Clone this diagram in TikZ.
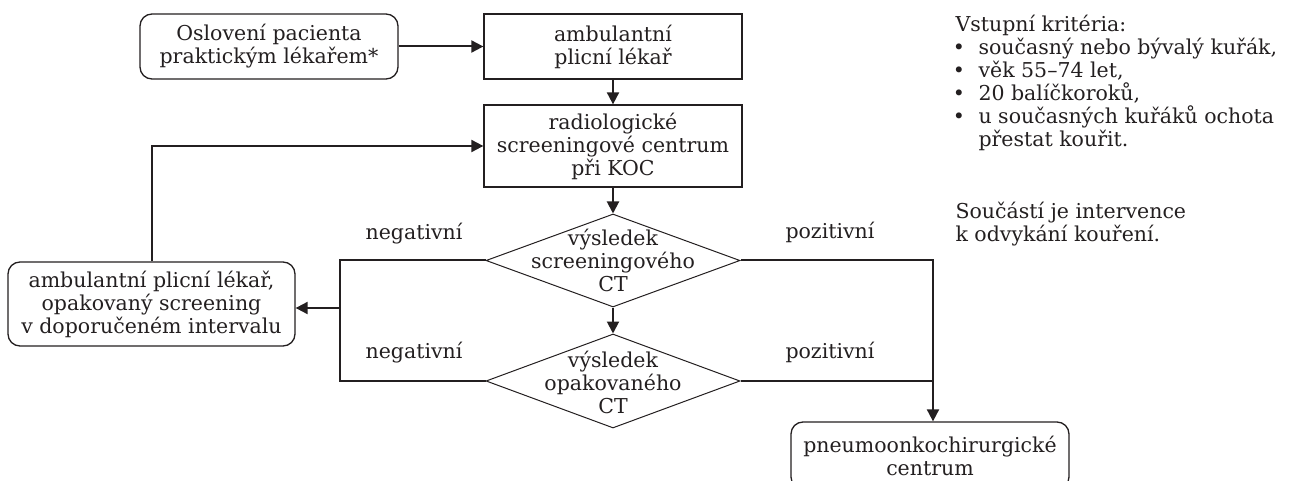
\documentclass[tikz,border=0pt]{standalone}
\usepackage{fontspec}
\setmainfont{DejaVu Serif}
\usetikzlibrary{shapes.geometric,arrows.meta}
\definecolor{ink}{RGB}{35,31,32}
\begin{document}
\begin{tikzpicture}[x=1pt,y=-1pt,
  every node/.style={font=\fontsize{20.5}{23}\selectfont, text=ink},
  rbox/.style={draw=ink, line width=1.3pt, rounded corners=12pt, align=center, inner sep=0pt},
  sbox/.style={draw=ink, line width=1.3pt, align=center, inner sep=0pt},
  dia/.style={diamond, draw=ink, line width=1pt, inner sep=0pt},
  conn/.style={draw=ink, line width=2pt, -{Triangle[length=12pt,width=12pt]}},
  wire/.style={draw=ink, line width=2pt},
  lbl/.style={anchor=base},
  txt/.style={anchor=base west}]
\useasboundingbox (0,0) rectangle (1291,481);
\clip (0,0) rectangle (1291,481);
% nodes
\node[rbox, minimum width=258pt, minimum height=65pt] (n1) at (269,46.5) {Oslovení pacienta\\praktickým lékařem*};
\node[sbox, minimum width=258pt, minimum height=65pt] (n2) at (613,46.5) {ambulantní\\plicní lékař};
\node[sbox, minimum width=258pt, minimum height=82pt] (n3) at (613,146) {radiologické\\screeningové centrum\\při KOC};
\node[dia, minimum width=254pt, minimum height=93pt] (d1) at (613,260.5) {};
\node[align=center, inner sep=0pt] (d1t) at (d1.center) {výsledek\\screeningového\\CT};
\node[dia, minimum width=254pt, minimum height=94pt] (d2) at (613,381) {};
\node[align=center, inner sep=0pt] (d2t) at ([yshift=-1pt]d2.center) {výsledek\\opakovaného\\CT};
\node[rbox, minimum width=287pt, minimum height=84pt] (lb) at (151.5,304) {ambulantní plicní lékař,\\opakovaný screening\\v doporučeném intervalu};
\node[rbox, minimum width=278pt, minimum height=67pt] (bot) at (930,455.5) {pneumoonkochirurgické\\centrum};
% labels
\node[lbl] (neg1) at (414,240) {negativní};
\node[lbl] (neg2) at (414,358) {negativní};
\node[lbl] (poz1) at (830,239) {pozitivní};
\node[lbl] (poz2) at (830,358) {pozitivní};
% right text
\node[txt] (r0) at (952,32) {Vstupní kritéria:};
\node[lbl] (b1) at (959,55) {•};
\node[txt] (r1) at (975,55) {současný nebo bývalý kuřák,};
\node[lbl] (b2) at (959,78) {•};
\node[txt] (r2) at (975,78) {věk 55–74 let,};
\node[lbl] (b3) at (959,101) {•};
\node[txt] (r3) at (975,101) {20 balíčkoroků,};
\node[lbl] (b4) at (959,124) {•};
\node[txt] (r4) at (975,124) {u současných kuřáků ochota};
\node[txt] (r5) at (975,147) {přestat kouřit.};
\node[txt] (r6) at (952,219) {Součástí je intervence};
\node[txt] (r7) at (952,242) {k odvykání kouření.};
% connectors
\coordinate (nx) at (340,308);
\coordinate (px) at (933,260.5);
\draw[conn] (n1.east) -- (n2.west);
\draw[conn] (n2.south) -- (n3.north);
\draw[conn] (n3.south) -- (d1.north);
\draw[conn] (d1.south) -- (d2.north);
\draw[conn] (lb.north) |- (n3.west);
\draw[wire] (d1.west) -| (nx) |- (d2.west);
\draw[conn] (nx) -- (nx -| lb.east);
\draw[wire] (d1.east) -- (px) -- (px |- d2.east);
\draw[wire] (d2.east) -- (px |- d2.east);
\draw[conn] (px |- d2.east) -- (px |- bot.north);
\end{tikzpicture}
\end{document}
